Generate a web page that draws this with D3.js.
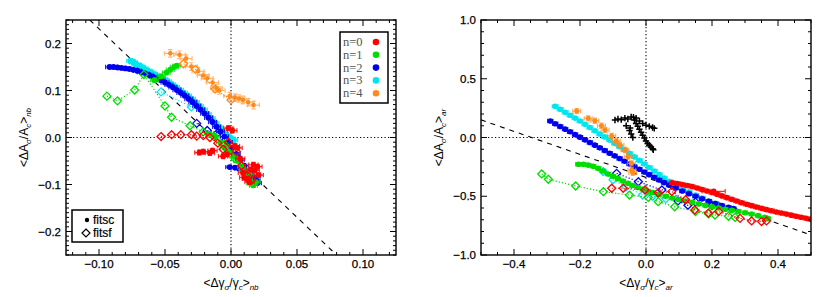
<!DOCTYPE html>
<html><head><meta charset="utf-8">
<script src="https://cdn.jsdelivr.net/npm/d3@7"></script>
<style>body{margin:0;background:#fff}svg{display:block}</style>
</head><body><svg id="c" width="830" height="297"></svg>
<script>
// ---------- tick labels ----------
const nbXTicks = [-0.10, -0.05, 0.00, 0.05, 0.10];
const nbYTicks = [-0.2, -0.1, 0.0, 0.1, 0.2];
const arXTicks = [-0.4, -0.2, 0.0, 0.2, 0.4];
const arYTicks = [-1.0, -0.5, 0.0, 0.5, 1.0];
const legendLabels = ["n=0", "n=1", "n=2", "n=3", "n=4"];
const fitLabels = ["fitsc", "fitsf"];

// ---------- nb panel data ----------
const nbN0sc = [[-0.024,-0.032],[-0.021,-0.030],[-0.016,-0.033],[-0.014,-0.028],[-0.006,-0.040],[-0.003,-0.036],[-0.002,0.020],[0.001,0.015],[0.003,-0.018],[0.005,-0.022],[0.007,-0.045],[0.010,-0.085],[0.012,-0.088],[0.015,-0.068],[0.017,-0.058],[0.018,-0.070],[0.020,-0.062],[0.021,-0.080],[0.014,-0.095],[0.009,-0.075]];
const nbN0sf = [[-0.053,0.002],[-0.045,0.006],[-0.038,0.006],[-0.030,0.006],[-0.026,0.003],[-0.021,0.004],[-0.016,0.000],[-0.010,-0.012],[-0.006,-0.025],[-0.002,-0.010],[0.004,-0.030],[0.008,-0.060],[0.012,-0.080],[0.016,-0.090]];
const nbN1sc = [[-0.058,0.122],[-0.053,0.130],[-0.049,0.138],[-0.046,0.144],[-0.043,0.150],[-0.041,0.153],[-0.016,0.008],[-0.012,0.002],[-0.008,-0.010],[-0.005,-0.022],[-0.002,-0.030],[0.002,-0.040],[0.005,-0.050],[0.008,-0.062],[0.011,-0.072],[0.013,-0.085],[0.015,-0.098],[0.017,-0.102],[0.019,-0.095],[0.014,-0.078]];
const nbN1sf = [[-0.094,0.088],[-0.086,0.078],[-0.073,0.101],[-0.066,0.134],[-0.050,0.067],[-0.045,0.043],[-0.031,0.025],[-0.021,0.012],[-0.013,0.002],[-0.005,-0.015],[0.003,-0.045],[0.009,-0.068],[0.015,-0.095]];
const nbN2sc = [[-0.092,0.150],[-0.089,0.150],[-0.086,0.149],[-0.083,0.148],[-0.080,0.147],[-0.077,0.146],[-0.074,0.144],[-0.071,0.142],[-0.068,0.139],[-0.065,0.136],[-0.062,0.133],[-0.059,0.129],[-0.056,0.126],[-0.053,0.122],[-0.050,0.117],[-0.047,0.112],[-0.044,0.107],[-0.041,0.101],[-0.038,0.095],[-0.035,0.089],[-0.032,0.082],[-0.029,0.075],[-0.026,0.067],[-0.023,0.059],[-0.020,0.051],[-0.017,0.042],[-0.014,0.033],[-0.011,0.023],[-0.008,0.013],[-0.005,0.002],[-0.002,-0.010],[0.001,-0.022],[0.004,-0.035],[0.007,-0.048],[0.010,-0.060],[0.013,-0.072],[0.016,-0.082],[0.019,-0.090],[0.020,-0.097],[-0.001,-0.063],[0.003,-0.064],[0.006,-0.066]];
const nbN2sf = [[-0.026,0.030],[-0.018,0.015],[-0.010,0.010],[-0.004,-0.005],[0.004,-0.040],[0.010,-0.070],[0.016,-0.090],[0.018,-0.080]];
const nbN3sc = [[-0.076,0.163],[-0.074,0.160],[-0.072,0.156],[-0.069,0.152],[-0.066,0.147],[-0.063,0.142],[-0.060,0.138],[-0.057,0.133],[-0.054,0.129],[-0.051,0.124],[-0.048,0.119],[-0.045,0.113],[-0.042,0.107],[-0.039,0.101],[-0.036,0.095],[-0.033,0.089],[-0.030,0.082],[-0.027,0.075],[-0.024,0.067],[-0.021,0.059],[-0.018,0.050],[-0.015,0.041],[-0.012,0.031],[-0.009,0.022],[-0.006,0.013],[-0.003,0.005],[0.000,-0.002],[0.002,-0.006]];
const nbN3sf = [[-0.053,0.097],[-0.030,0.065]];
const nbN4sc = [[-0.046,0.179],[-0.039,0.176],[-0.034,0.168],[-0.030,0.151],[-0.025,0.141],[-0.021,0.132],[-0.018,0.126],[-0.014,0.117],[-0.011,0.105],[-0.009,0.100],[-0.001,0.088],[0.003,0.085],[0.006,0.083],[0.009,0.080],[0.013,0.075],[0.017,0.069]];
const nbN4sf = [[-0.036,0.157],[-0.027,0.145],[-0.012,0.103],[0.000,0.080]];
const nbFitLine = [[-0.107,0.25],[0.080,-0.25]];

// ---------- ar panel data ----------
const arN0sc = [[0.080,-0.385],[0.095,-0.392],[0.110,-0.400],[0.125,-0.408],[0.140,-0.418],[0.155,-0.430],[0.170,-0.443],[0.185,-0.455],[0.200,-0.468],[0.215,-0.482],[0.230,-0.497],[0.245,-0.512],[0.260,-0.527],[0.275,-0.541],[0.290,-0.555],[0.305,-0.568],[0.320,-0.580],[0.335,-0.592],[0.350,-0.603],[0.365,-0.614],[0.380,-0.624],[0.395,-0.634],[0.410,-0.643],[0.425,-0.652],[0.440,-0.661],[0.455,-0.670],[0.470,-0.679],[0.485,-0.688],[0.498,-0.696]];
const arN0out = [[0.205,-0.458]];
const arN0sf = [[-0.104,-0.432],[-0.069,-0.432],[-0.003,-0.447],[0.037,-0.470],[0.078,-0.460],[0.120,-0.530],[0.148,-0.617],[0.189,-0.643],[0.220,-0.630],[0.285,-0.688],[0.320,-0.710],[0.350,-0.715],[0.365,-0.710]];
const arN1sc = [[-0.205,-0.228],[-0.190,-0.228],[-0.175,-0.235],[-0.160,-0.245],[-0.145,-0.262],[-0.130,-0.285],[-0.115,-0.310],[-0.100,-0.330],[-0.085,-0.350],[-0.070,-0.370],[-0.055,-0.390],[-0.040,-0.408],[-0.025,-0.425],[-0.010,-0.440],[0.005,-0.455],[0.020,-0.468],[0.040,-0.485],[0.060,-0.500],[0.080,-0.515],[0.100,-0.528],[0.120,-0.540],[0.140,-0.552],[0.160,-0.565],[0.180,-0.578],[0.200,-0.590],[0.220,-0.600],[0.240,-0.610],[0.260,-0.620],[0.280,-0.630],[0.300,-0.640],[0.320,-0.652],[0.340,-0.665],[0.360,-0.680],[0.370,-0.690]];
const arN1sf = [[-0.316,-0.310],[-0.296,-0.356],[-0.213,-0.413],[-0.129,-0.461],[-0.050,-0.490],[0.007,-0.510],[0.037,-0.546],[0.087,-0.590],[0.150,-0.630],[0.190,-0.650],[0.209,-0.660],[0.250,-0.670],[0.270,-0.680]];
const arN2sc = [[-0.290,0.140],[-0.275,0.117],[-0.260,0.094],[-0.245,0.071],[-0.230,0.049],[-0.215,0.026],[-0.200,0.003],[-0.185,-0.020],[-0.170,-0.042],[-0.155,-0.065],[-0.140,-0.088],[-0.125,-0.111],[-0.110,-0.134],[-0.095,-0.156],[-0.080,-0.179],[-0.065,-0.202],[-0.050,-0.225],[-0.035,-0.248],[-0.020,-0.270],[-0.005,-0.293],[0.010,-0.316],[0.025,-0.339],[0.040,-0.362],[0.055,-0.384],[0.070,-0.405],[0.090,-0.430],[0.110,-0.455],[0.130,-0.478],[0.150,-0.500],[0.170,-0.522],[0.190,-0.543],[0.210,-0.563],[0.230,-0.580],[0.250,-0.595],[0.265,-0.605]];
const arN2sf = [[-0.089,-0.305],[-0.023,-0.376],[0.048,-0.447],[0.078,-0.404],[0.097,-0.540],[0.127,-0.577],[0.150,-0.550],[0.200,-0.580]];
const arN3sc = [[-0.275,0.265],[-0.260,0.240],[-0.245,0.215],[-0.230,0.190],[-0.215,0.165],[-0.200,0.140],[-0.185,0.112],[-0.170,0.085],[-0.155,0.058],[-0.140,0.030],[-0.125,0.005],[-0.110,-0.022],[-0.095,-0.050],[-0.080,-0.078],[-0.065,-0.105],[-0.050,-0.135],[-0.035,-0.165],[-0.020,-0.195],[-0.005,-0.225],[0.010,-0.255],[0.025,-0.285],[0.040,-0.315],[0.055,-0.345],[0.070,-0.372],[0.090,-0.405],[0.110,-0.435],[0.130,-0.462],[0.150,-0.490],[0.170,-0.515],[0.190,-0.540],[0.210,-0.560]];
const arN3sf = [[-0.130,-0.290],[-0.100,-0.360],[-0.060,-0.420],[-0.010,-0.490],[0.020,-0.500],[0.060,-0.520]];
const arN4sc = [[-0.210,0.225],[-0.175,0.163],[-0.155,0.143],[-0.135,0.100],[-0.124,0.064],[-0.104,0.013],[-0.090,-0.030],[-0.079,-0.064],[-0.064,-0.106],[-0.054,-0.163],[-0.044,-0.220],[-0.043,-0.277],[-0.040,-0.300]];
const arOther = [[-0.094,0.149],[-0.085,0.158],[-0.075,0.152],[-0.064,0.165],[-0.055,0.158],[-0.045,0.175],[-0.038,0.172],[-0.035,0.150],[-0.030,0.120],[-0.025,0.095],[-0.020,0.070],[-0.015,0.045],[-0.010,0.020],[-0.005,-0.005],[0.000,-0.030],[0.005,-0.050],[0.010,-0.065],[0.015,-0.080],[0.020,-0.095],[0.022,-0.105],[-0.030,0.165],[-0.020,0.140],[-0.010,0.120],[0.000,0.105],[0.010,0.095],[0.020,0.085],[0.025,0.078],[-0.050,0.060],[-0.045,0.030],[-0.040,0.000],[-0.060,0.100],[-0.048,0.080]];
const arFitLine = [[-0.5,0.15],[0.5,-0.83]];

// ---------- styles ----------
const colors = ["#ff0000", "#00dd00", "#0000ee", "#00e5ee", "#ff8a1c"];
const svg = d3.select("#c");
const FONT = "'Liberation Sans', Arial, sans-serif";

function panel(cfg){
  const x = d3.scaleLinear().domain(cfg.xd).range([cfg.x0, cfg.x1]);
  const y = d3.scaleLinear().domain(cfg.yd).range([cfg.y1, cfg.y0]);
  const g = svg.append("g");
  const clipId = "clip" + cfg.id;
  svg.append("clipPath").attr("id", clipId).append("rect")
    .attr("x", cfg.x0).attr("y", cfg.y0).attr("width", cfg.x1-cfg.x0).attr("height", cfg.y1-cfg.y0);
  const pg = g.append("g").attr("clip-path", `url(#${clipId})`);

  pg.append("line").attr("x1", x(0)).attr("x2", x(0)).attr("y1", cfg.y0).attr("y2", cfg.y1)
    .attr("stroke", "#000").attr("stroke-width", 1.1).attr("stroke-dasharray", "1.2,2.3");
  pg.append("line").attr("x1", cfg.x0).attr("x2", cfg.x1).attr("y1", y(0)).attr("y2", y(0))
    .attr("stroke", "#000").attr("stroke-width", 1.1).attr("stroke-dasharray", "1.2,2.3");

  pg.append("line").attr("x1", x(cfg.fit[0][0])).attr("y1", y(cfg.fit[0][1]))
    .attr("x2", x(cfg.fit[1][0])).attr("y2", y(cfg.fit[1][1]))
    .attr("stroke", "#000").attr("stroke-width", 1.1).attr("stroke-dasharray", "5,5");

  const line = d3.line().x(d=>x(d[0])).y(d=>y(d[1]));
  cfg.series.forEach(s=>{
    const col = s.color;
    if (s.type === "sf") {
      pg.append("path").datum(s.data).attr("d", line).attr("fill", "none")
        .attr("stroke", col).attr("stroke-width", 1.2).attr("stroke-dasharray", "1.2,2");
      pg.append("g").selectAll("path").data(s.data).join("path")
        .attr("d", d=>{const cx=x(d[0]), cy=y(d[1]), r=4; return `M${cx},${cy-r}L${cx+r},${cy}L${cx},${cy+r}L${cx-r},${cy}Z`;})
        .attr("fill", "none").attr("stroke", col).attr("stroke-width", 1.3);
    } else if (s.type === "plus") {
      pg.append("g").selectAll("path").data(s.data).join("path")
        .attr("d", d=>{const cx=x(d[0]), cy=y(d[1]), r=3.2; return `M${cx-r},${cy}H${cx+r}M${cx},${cy-r}V${cy+r}`;})
        .attr("stroke", col).attr("stroke-width", 1.5);
    } else {
      const eg = pg.append("g").attr("stroke", col).attr("stroke-width", 1.2).attr("opacity", s.errOp || 0.85);
      eg.selectAll("path").data(s.data).join("path")
        .attr("d", d=>{
          const cx=x(d[0]), cy=y(d[1]);
          let p = "";
          if (s.ex) { const a=x(d[0]-s.ex), b=x(d[0]+s.ex);
            p += `M${a},${cy}H${b}M${a},${cy-2.2}V${cy+2.2}M${b},${cy-2.2}V${cy+2.2}`; }
          if (s.ey) { const a=y(d[1]-s.ey), b=y(d[1]+s.ey);
            p += `M${cx},${a}V${b}M${cx-2.2},${a}H${cx+2.2}M${cx-2.2},${b}H${cx+2.2}`; }
          return p;
        });
      pg.append("g").selectAll("circle").data(s.data).join("circle")
        .attr("cx", d=>x(d[0])).attr("cy", d=>y(d[1])).attr("r", s.r || 2.8).attr("fill", col);
    }
  });

  g.append("rect").attr("x", cfg.x0).attr("y", cfg.y0).attr("width", cfg.x1-cfg.x0).attr("height", cfg.y1-cfg.y0)
    .attr("fill", "none").attr("stroke", "#000").attr("stroke-width", 1.4);

  const tg = g.append("g").attr("stroke", "#000").attr("stroke-width", 1);
  const eps = 1e-9;
  const xMinor = d3.range(Math.ceil(cfg.xd[0]/cfg.xMinor - eps), Math.floor(cfg.xd[1]/cfg.xMinor + eps)+1).map(k=>k*cfg.xMinor);
  const yMinor = d3.range(Math.ceil(cfg.yd[0]/cfg.yMinor - eps), Math.floor(cfg.yd[1]/cfg.yMinor + eps)+1).map(k=>k*cfg.yMinor);
  xMinor.forEach(v=>{
    const isMaj = cfg.xMajor.some(m=>Math.abs(m-v)<1e-6);
    const L = isMaj ? 6 : 3;
    tg.append("line").attr("x1", x(v)).attr("x2", x(v)).attr("y1", cfg.y1).attr("y2", cfg.y1-L);
    tg.append("line").attr("x1", x(v)).attr("x2", x(v)).attr("y1", cfg.y0).attr("y2", cfg.y0+L);
  });
  yMinor.forEach(v=>{
    const isMaj = cfg.yMajor.some(m=>Math.abs(m-v)<1e-6);
    const L = isMaj ? 6 : 3;
    tg.append("line").attr("y1", y(v)).attr("y2", y(v)).attr("x1", cfg.x0).attr("x2", cfg.x0+L);
    tg.append("line").attr("y1", y(v)).attr("y2", y(v)).attr("x1", cfg.x1).attr("x2", cfg.x1-L);
  });

  const fmt = v => (v<0 ? "\u2212" : "") + Math.abs(v).toFixed(cfg.xDec);
  const fmtY = v => (v<0 ? "\u2212" : "") + Math.abs(v).toFixed(1);
  g.append("g").selectAll("text").data(cfg.xMajor).join("text")
    .attr("x", d=>x(d)).attr("y", cfg.y1+13).attr("text-anchor", "middle")
    .attr("font-family", FONT).attr("font-size", 11.5).attr("stroke","#000").attr("stroke-width",0.25).text(fmt);
  g.append("g").selectAll("text").data(cfg.yMajor).join("text")
    .attr("x", cfg.x0-5).attr("y", d=>y(d)+4).attr("text-anchor", "end")
    .attr("font-family", FONT).attr("font-size", 11.5).attr("stroke","#000").attr("stroke-width",0.25).text(fmtY);

  const xt = g.append("text").attr("x", (cfg.x0+cfg.x1)/2).attr("y", 287).attr("text-anchor", "middle")
    .attr("font-family", FONT).attr("font-size", 12);
  xt.append("tspan").text("<\u0394\u03b3");
  xt.append("tspan").attr("font-size", 8).attr("dy", 3).attr("font-style","italic").text("\u03c3");
  xt.append("tspan").attr("dy", -3).text("/\u03b3");
  xt.append("tspan").attr("font-size", 8).attr("dy", 3).attr("font-style","italic").text("c");
  xt.append("tspan").attr("dy", -3).text(">");
  xt.append("tspan").attr("font-size", 8).attr("dy", 3).attr("font-style","italic").text(cfg.sub);

  const yt = g.append("text").attr("transform", `translate(${cfg.x0-38},${(cfg.y0+cfg.y1)/2}) rotate(-90)`)
    .attr("text-anchor", "middle").attr("font-family", FONT).attr("font-size", 12);
  yt.append("tspan").text("<\u0394A");
  yt.append("tspan").attr("font-size", 8).attr("dy", 3).attr("font-style","italic").text("\u03c3");
  yt.append("tspan").attr("dy", -3).text("/A");
  yt.append("tspan").attr("font-size", 8).attr("dy", 3).attr("font-style","italic").text("c");
  yt.append("tspan").attr("dy", -3).text(">");
  yt.append("tspan").attr("font-size", 8).attr("dy", 3).attr("font-style","italic").text(cfg.sub);
  return {g, x, y};
}

panel({
  id:"nb", x0:66, x1:396, y0:20, y1:255, xd:[-0.125,0.125], yd:[-0.25,0.25],
  xMajor: nbXTicks, yMajor: nbYTicks, xMinor:0.01, yMinor:0.01, xDec:2, sub:"nb", fit: nbFitLine,
  series: [
    {type:"sc", data:nbN3sc, color:colors[3], ex:0.003, ey:0.005, r:3.2},
    {type:"sf", data:nbN3sf, color:colors[3]},
    {type:"sc", data:nbN2sc, color:colors[2], ex:0.003, ey:0.003, r:2.9},
    {type:"sf", data:nbN2sf, color:colors[2]},
    {type:"sc", data:nbN1sc, color:colors[1], ex:0.003, ey:0.004},
    {type:"sf", data:nbN1sf, color:colors[1]},
    {type:"sc", data:nbN0sc, color:colors[0], ex:0.0035, ey:0.005},
    {type:"sf", data:nbN0sf, color:colors[0]},
    {type:"sc", data:nbN4sc, color:colors[4], ex:0.0045, ey:0.008, errOp:0.6, r:2.3},
    {type:"sf", data:nbN4sf, color:colors[4]}
  ]
});

panel({
  id:"ar", x0:481, x1:811, y0:20, y1:255, xd:[-0.5,0.5], yd:[-1,1],
  xMajor: arXTicks, yMajor: arYTicks, xMinor:0.05, yMinor:0.1, xDec:1, sub:"ar", fit: arFitLine,
  series: [
    {type:"sc", data:arN3sc, color:colors[3], ex:0.009, ey:0.012, r:2.8},
    {type:"sf", data:arN3sf, color:colors[3]},
    {type:"sc", data:arN2sc, color:colors[2], ex:0.008, ey:0.01, r:2.8},
    {type:"sf", data:arN2sf, color:colors[2]},
    {type:"sc", data:arN1sc, color:colors[1], ex:0.008, ey:0.012},
    {type:"sf", data:arN1sf, color:colors[1]},
    {type:"sc", data:arN0sc, color:colors[0], ex:0.009, ey:0.012},
    {type:"sc", data:arN0out, color:colors[0], ex:0.035, ey:0.012},
    {type:"sf", data:arN0sf, color:colors[0]},
    {type:"sc", data:arN4sc, color:colors[4], ex:0.012, ey:0.022, errOp:0.7, r:2.5},
    {type:"plus", data:arOther, color:"#000"}
  ]
});

const lg = svg.append("g");
lg.append("rect").attr("x", 340).attr("y", 32).attr("width", 48).attr("height", 71)
  .attr("fill", "#fff").attr("stroke", "#000").attr("stroke-width", 1.5);
lg.selectAll("text").data(legendLabels).join("text")
  .attr("x", 343).attr("y", (d,i)=>46 + i*12.8)
  .attr("font-family", "'Liberation Serif', 'Times New Roman', serif").attr("font-size", 12.5)
  .attr("fill", "#555").text(d=>d);
lg.selectAll("circle").data(legendLabels).join("circle")
  .attr("cx", 376).attr("cy", (d,i)=>42 + i*12.8).attr("r", 3.3).attr("fill", (d,i)=>colors[i]);

const fg = svg.append("g");
fg.append("rect").attr("x", 72).attr("y", 210).attr("width", 51).attr("height", 32)
  .attr("fill", "#fff").attr("stroke", "#000").attr("stroke-width", 1.5);
fg.append("circle").attr("cx", 87).attr("cy", 220).attr("r", 2.2).attr("fill", "#000");
fg.append("path").attr("d", "M86,229L90,233L86,237L82,233Z").attr("fill", "none").attr("stroke", "#000").attr("stroke-width", 1.2);
fg.selectAll("text").data(fitLabels).join("text")
  .attr("x", 93).attr("y", (d,i)=>224 + i*13)
  .attr("font-family", FONT).attr("font-size", 12).attr("stroke","#000").attr("stroke-width",0.2).text(d=>d);
</script></body></html>
